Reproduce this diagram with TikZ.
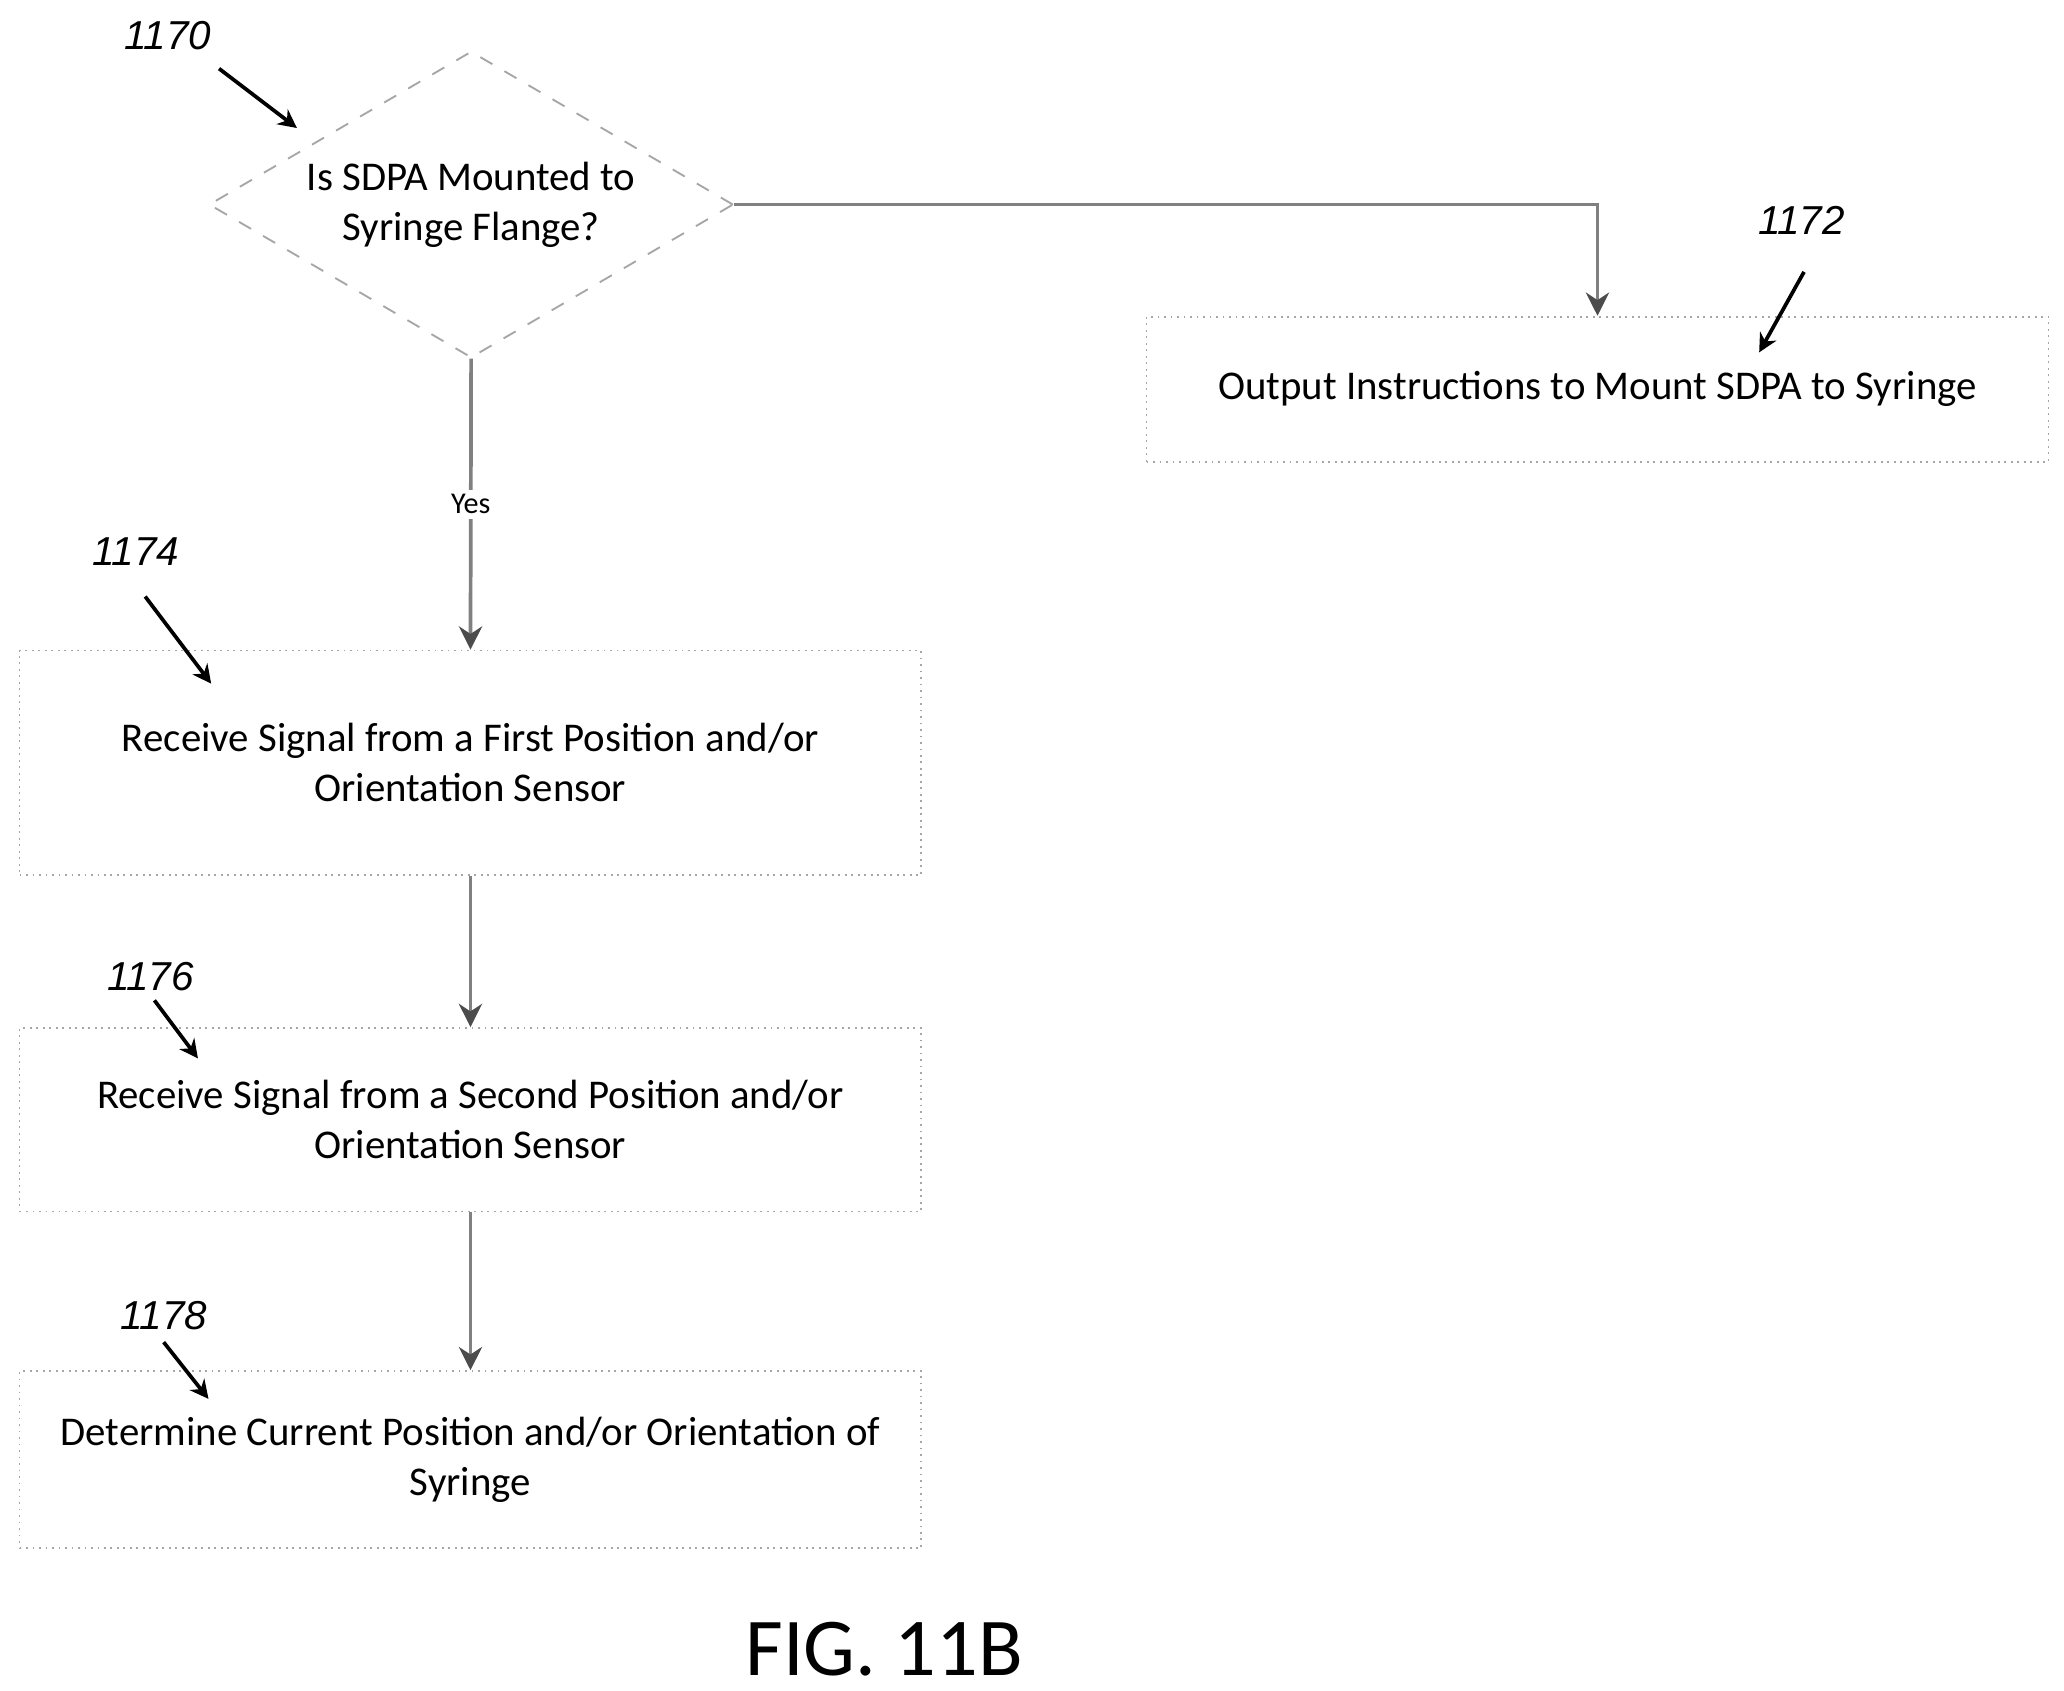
\documentclass[tikz,border=0pt]{standalone}
\usepackage{fontspec}
\setmainfont{Carlito}
\newfontfamily\numfont{Liberation Sans}
\usetikzlibrary{positioning,shapes.geometric,arrows.meta}
\tikzset{
    stepbox/.style={
        draw=gray!70,
        densely dotted,
        minimum width=6.83cm,
        align=center,
        inner sep=0,
        font=\fontsize{8.8pt}{10.8pt}\selectfont
    },
    flow/.style={
        draw=gray,
        thick,
        -{Stealth[length=5pt,width=5pt,black!70]}
    },
    refnum/.style={
        font=\numfont\itshape\fontsize{8.7pt}{10pt}\selectfont
    },
    refarrow/.style={
        -{Stealth[length=4pt,width=4pt]},
        thick
    }
}
\begin{document}
\begin{tikzpicture}[x=0.01cm,y=-0.01cm]
    \useasboundingbox (0,0) rectangle (1564,1281);
    % decision
    \node[diamond, draw=gray!70, dashed, minimum width=3.97cm, minimum height=2.32cm,
          inner sep=0, aspect=1.71, align=center,
          font=\fontsize{8.8pt}{10.8pt}\selectfont] (check) at (357,155)
          {Is SDPA Mounted to\\Syringe Flange?};
    % steps
    \node[stepbox, minimum width=6.83cm, minimum height=1.10cm] (mount) at (1210.5,295)
          {Output Instructions to Mount SDPA to Syringe};
    \node[stepbox, minimum height=1.70cm] (first) at (356.5,578)
          {Receive Signal from a First Position and/or\\Orientation Sensor};
    \node[stepbox, minimum height=1.39cm] (second) at (356.5,848.5)
          {Receive Signal from a Second Position and/or\\Orientation Sensor};
    \node[stepbox, minimum height=1.34cm] (current) at (356.5,1106)
          {Determine Current Position and/or Orientation of\\Syringe};
    % connectors
    \draw[flow] (check.east) -| (mount.north);
    \draw[flow] (check.south) -- node[fill=white, inner sep=1pt,
          font=\fontsize{6.5pt}{8pt}\selectfont] {Yes} (first.north);
    \draw[flow] (first) -- (second);
    \draw[flow] (second) -- (current);
    % reference numerals
    \node[refnum] (n1170) at (127,27) {1170};
    \node[refnum] (n1172) at (1365,167) {1172};
    \node[refnum] (n1174) at (103,418) {1174};
    \node[refnum] (n1176) at (114,740) {1176};
    \node[refnum] (n1178) at (124,997) {1178};
    \coordinate (t1170) at (225,97);
    \coordinate (t1172) at (1333,267);
    \coordinate (t1174) at (160,518);
    \coordinate (t1176) at (150,802);
    \coordinate (t1178) at (158,1060);
    \draw[refarrow] (166,52) -- (t1170);
    \draw[refarrow] (1367,206) -- (t1172);
    \draw[refarrow] (110,452) -- (t1174);
    \draw[refarrow] (117,758) -- (t1176);
    \draw[refarrow] (124,1017) -- (t1178);
    % caption
    \node[font=\fontsize{17.7pt}{20pt}\selectfont] (fig) at (670,1250) {FIG. 11B};
\end{tikzpicture}
\end{document}
